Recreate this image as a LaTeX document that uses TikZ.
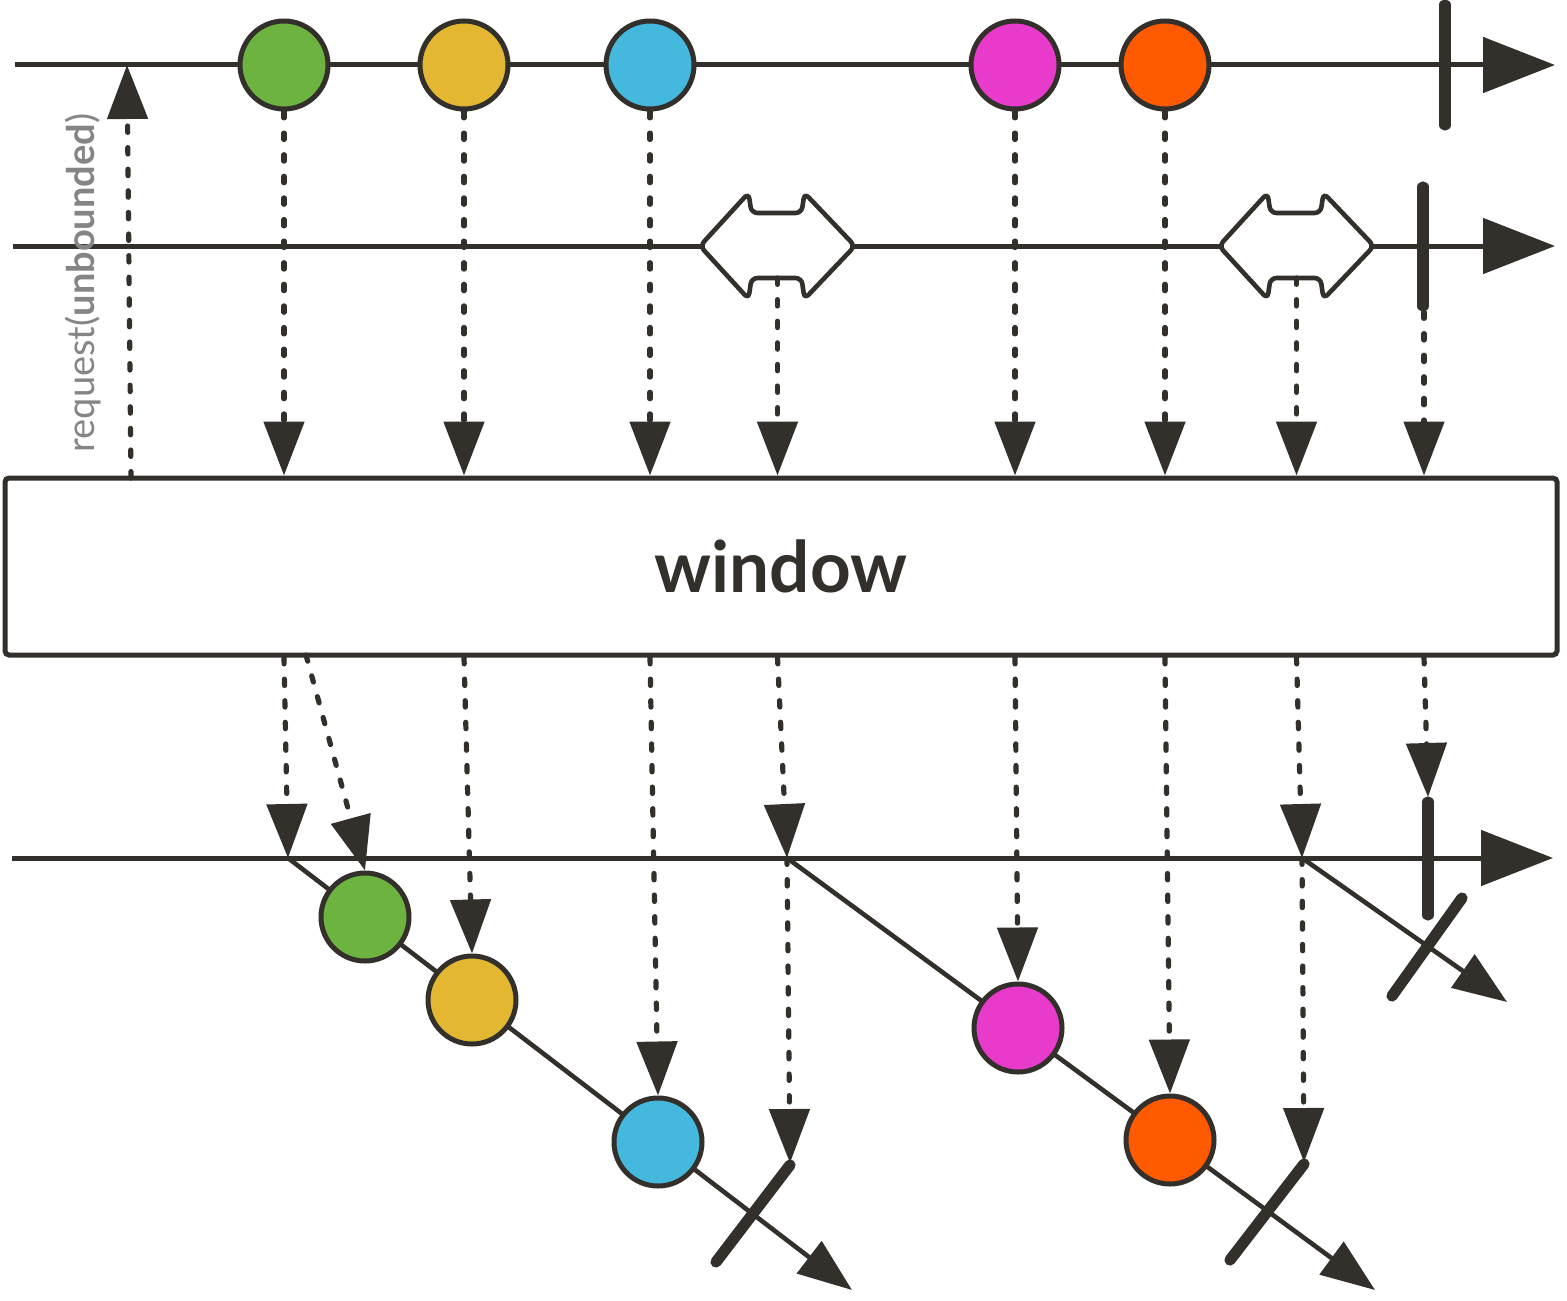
\documentclass[tikz,border=0pt]{standalone}
\usepackage{fontspec}
\setmainfont{Lato}
\usepackage{xcolor}
\usetikzlibrary{arrows.meta,positioning}

\definecolor{ink}{HTML}{33302B}
\definecolor{evgreen}{HTML}{6DB33F}
\definecolor{evyellow}{HTML}{E3B731}
\definecolor{evblue}{HTML}{44B8DD}
\definecolor{evpink}{HTML}{E83ACB}
\definecolor{evorange}{HTML}{FF5A00}
\definecolor{reqgray}{HTML}{858585}

\tikzset{
  tl/.style={draw=ink, line width=2.5pt, -{Triangle[length=36pt,width=27.5pt]}},
  flow/.style={draw=ink, line width=2.3pt, -{Triangle[length=27pt,width=20pt]}},
  sig/.style={draw=ink, line width=2.6pt, line cap=round, dash pattern=on 3.2pt off 7.6pt, -{Triangle[length=27pt,width=20pt]}},
  evt/.style={circle, draw=ink, line width=2.5pt, minimum size=44pt, inner sep=0pt},
  stopbar/.style={draw=ink, line width=5.6pt, line cap=round},
  bnd/.style={draw=ink, fill=white, line width=2.3pt, rounded corners=3pt},
}

\begin{document}
\begin{tikzpicture}[x=0.5pt,y=0.5pt,yscale=-1,xscale=1]
	\useasboundingbox (0,0) rectangle (1567,1300);

	% end points of the three time lines and of the windows
	\coordinate (t0) at (15,65);
	\coordinate (t1) at (1555,65);
	\coordinate (s0) at (13,246);
	\coordinate (s1) at (1555,246);
	\coordinate (u0) at (12,858);
	\coordinate (u1) at (1553,858);
	\coordinate (o1) at (288,858);
	\coordinate (o2) at (787,858);
	\coordinate (o3) at (1302,858);
	\coordinate (e1) at (852,1290);
	\coordinate (e2) at (1375,1290);
	\coordinate (e3) at (1507,1002);
	\coordinate (k1) at (790,1163);
	\coordinate (k2) at (1304,1162);
	\coordinate (cb2) at (1424,312);
	\coordinate (cb3) at (1428,797);
	\coordinate (wb2) at (306,655);
	\coordinate (rq0) at (131,478);
	\coordinate (rq1) at (127,65);

	%Straight Lines (time lines)
	\draw [tl] (t0) -- (t1);
	\draw [tl] (s0) -- (s1);
	\draw [tl] (u0) -- (u1);
	%Straight Lines (windows)
	\draw [flow] (o1) -- (e1);
	\draw [flow] (o2) -- (e2);
	\draw [flow] (o3) -- (e3);

	%Shape: Circle (source)
	\node [evt, fill=evgreen] (g1) at (284,65) {};
	\node [evt, fill=evyellow] (y1) at (464,65) {};
	\node [evt, fill=evblue] (b1) at (650,65) {};
	\node [evt, fill=evpink] (m1) at (1015,65) {};
	\node [evt, fill=evorange] (r1) at (1165,65) {};
	%Shape: Circle (windows)
	\node [evt, fill=evgreen] (g2) at (365,917) {};
	\node [evt, fill=evyellow] (y2) at (472,1000) {};
	\node [evt, fill=evblue] (b2) at (658,1142) {};
	\node [evt, fill=evpink] (m2) at (1018,1028) {};
	\node [evt, fill=evorange] (r2) at (1170,1140) {};

	%Shape: boundary
	\begin{scope}[shift={(777.5,246)}]
		\draw [bnd] (-77.5,0) -- (-29,-53) -- (-26,-33) -- (24,-33) -- (27,-53) -- (77.5,0) -- (27,53) -- (24,32) -- (-26,32) -- (-29,53) -- cycle;
		\coordinate (bd1) at (0,32);
	\end{scope}
	\begin{scope}[shift={(1296.5,246)}]
		\draw [bnd] (-77.5,0) -- (-29,-53) -- (-26,-33) -- (24,-33) -- (27,-53) -- (77.5,0) -- (27,53) -- (24,32) -- (-26,32) -- (-29,53) -- cycle;
		\coordinate (bd2) at (0,32);
	\end{scope}

	%Straight Lines (complete)
	\draw [stopbar] (1445,5) -- (1445,125);
	\draw [stopbar] (1423,187) -- (1423,306);
	\draw [stopbar] (1428,802) -- (1428,915);
	\draw [stopbar] (716,1262) -- (790,1165);
	\draw [stopbar] (1230,1260) -- (1304,1164);
	\draw [stopbar] (1392,996) -- (1462,898);

	%Shape: Rectangle (operator)
	\node [draw=ink, line width=2.5pt, rounded corners=2pt, fill=white, minimum width=776pt, minimum height=88.5pt, inner sep=0pt, text=ink, font=\bfseries\fontsize{35.5}{35.5}\selectfont] (win) at (781,566.5) {window};

	% Text Node
	\node [rotate=90, text=reqgray, inner sep=0pt, font=\fontsize{19}{19}\selectfont] (req) at (83,283) {request(\textbf{unbounded})};

	%Dotted Lines (request)
	\draw [sig] (rq0) -- (rq1);
	%Dotted Lines (into window)
	\draw [sig] (g1.south) -- (g1 |- win.north);
	\draw [sig] (y1.south) -- (y1 |- win.north);
	\draw [sig] (b1.south) -- (b1 |- win.north);
	\draw [sig] (bd1) -- (bd1 |- win.north);
	\draw [sig] (m1.south) -- (m1 |- win.north);
	\draw [sig] (r1.south) -- (r1 |- win.north);
	\draw [sig] (bd2) -- (bd2 |- win.north);
	\draw [sig] (cb2) -- (cb2 |- win.north);
	%Dotted Lines (out of window)
	\draw [sig] (g1 |- win.south) -- (o1);
	\draw [sig] (wb2) -- (g2.north);
	\draw [sig] (y1 |- win.south) -- (y2.north);
	\draw [sig] (b1 |- win.south) -- (b2.north);
	\draw [sig] (bd1 |- win.south) -- (o2);
	\draw [sig] (o2) -- (k1);
	\draw [sig] (m1 |- win.south) -- (m2.north);
	\draw [sig] (r1 |- win.south) -- (r2.north);
	\draw [sig] (bd2 |- win.south) -- (o3);
	\draw [sig] (o3) -- (k2);
	\draw [sig] (cb2 |- win.south) -- (cb3);

\end{tikzpicture}
\end{document}
